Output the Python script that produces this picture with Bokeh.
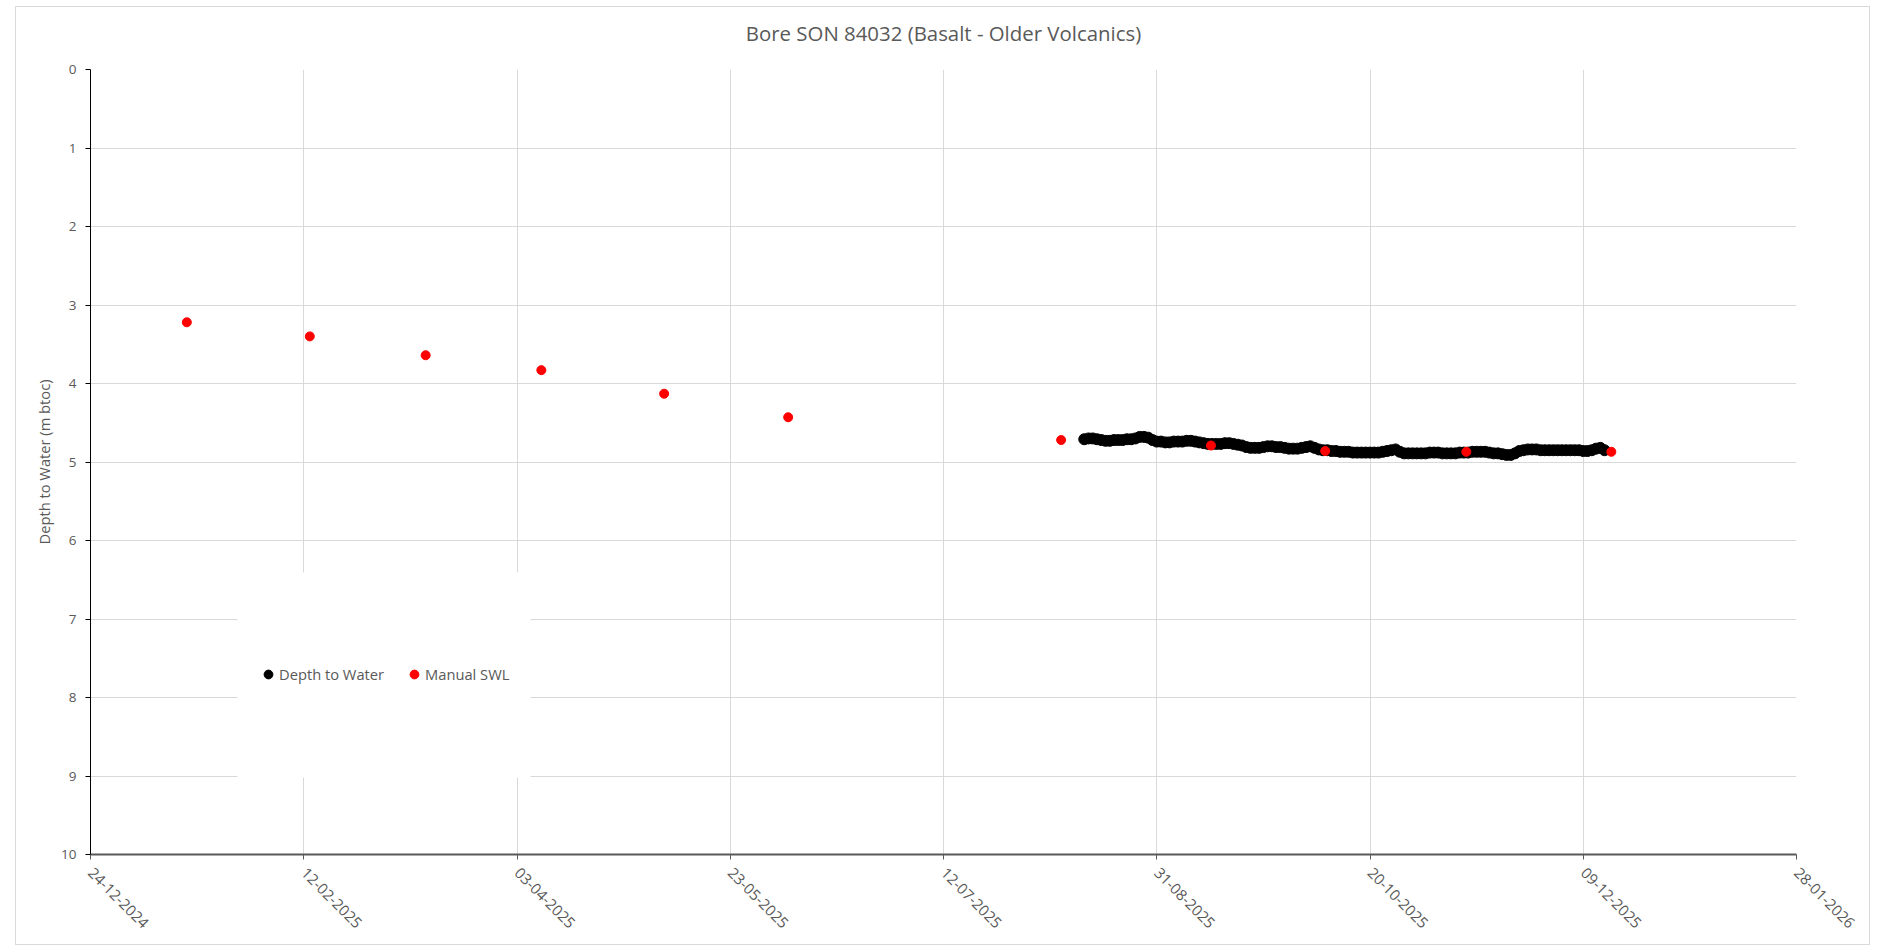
import math
import pandas as pd
from bokeh.plotting import figure
from bokeh.models import (Range1d, FixedTicker, DatetimeTickFormatter, BoxAnnotation,
                          LinearAxis)
from bokeh.embed import file_html
from bokeh.resources import INLINE

TITLE = "Bore SON 84032 (Basalt - Older Volcanics)"
Y_LABEL = "Depth to Water (m btoc)"
SERIES_LOGGER = "Depth to Water"
SERIES_MANUAL = "Manual SWL"

x_tick_dates = ["2024-12-24", "2025-02-12", "2025-04-03", "2025-05-23", "2025-07-12",
                "2025-08-31", "2025-10-20", "2025-12-09", "2026-01-28"]
y_ticks = [0, 1, 2, 3, 4, 5, 6, 7, 8, 9, 10]

# Daily logger readings, starting 2025-08-14
logger_start = "2025-08-14"
logger_depth = [
    4.71, 4.70, 4.70, 4.71, 4.72, 4.73, 4.73, 4.72, 4.72, 4.72,
    4.71, 4.71, 4.70, 4.68, 4.68, 4.69, 4.72, 4.74, 4.74, 4.75,
    4.75, 4.74, 4.74, 4.74, 4.73, 4.73, 4.74, 4.75, 4.76, 4.77,
    4.77, 4.77, 4.77, 4.76, 4.76, 4.77, 4.78, 4.79, 4.81, 4.82,
    4.82, 4.82, 4.81, 4.80, 4.80, 4.81, 4.81, 4.82, 4.83, 4.83,
    4.83, 4.82, 4.81, 4.80, 4.82, 4.84, 4.85, 4.85, 4.86, 4.86,
    4.87, 4.87, 4.87, 4.88, 4.88, 4.88, 4.88, 4.88, 4.88, 4.88,
    4.87, 4.86, 4.85, 4.84, 4.87, 4.89, 4.89, 4.89, 4.89, 4.89,
    4.89, 4.88, 4.88, 4.88, 4.89, 4.89, 4.89, 4.89, 4.88, 4.88,
    4.88, 4.87, 4.87, 4.87, 4.87, 4.88, 4.89, 4.89, 4.90, 4.91,
    4.91, 4.89, 4.86, 4.85, 4.84, 4.84, 4.84, 4.85, 4.85, 4.85,
    4.85, 4.85, 4.85, 4.85, 4.85, 4.85, 4.85, 4.86, 4.86, 4.85,
    4.83, 4.82, 4.85,
]

manual_dates = ["2025-01-15 14:00", "2025-02-13 10:00", "2025-03-12 14:00",
                "2025-04-08 17:00", "2025-05-07 12:00", "2025-06-05 14:00",
                "2025-08-08 14:00", "2025-09-12 17:00", "2025-10-09 12:00",
                "2025-11-11 14:00", "2025-12-15 14:00"]
manual_depth = [3.22, 3.40, 3.64, 3.83, 4.13, 4.43, 4.72, 4.79, 4.86, 4.87, 4.87]

TEXT = "#595959"
GRID = "#d9d9d9"
FONT = "Open Sans"

logger_x = pd.date_range(logger_start, periods=len(logger_depth), freq="D")
manual_x = pd.to_datetime(manual_dates)
tick_ts = pd.to_datetime(x_tick_dates)
tick_ms = [t.value / 1e6 for t in tick_ts]

p = figure(width=1855, height=939, x_axis_type="datetime",
           x_range=Range1d(tick_ts[0].to_pydatetime(), tick_ts[-1].to_pydatetime()),
           y_range=Range1d(10, 0),
           output_backend="svg", toolbar_location=None,
           min_border_left=74, min_border_right=75, min_border_top=62, min_border_bottom=92)

p.margin = (6, 0, 0, 15)
p.styles = {"border": "1px solid #d9d9d9"}
p.background_fill_color = "white"
p.border_fill_color = "white"
p.outline_line_color = None

xt = FixedTicker(ticks=tick_ms)
fmt = "%d-%m-%Y"
xaxis = p.below[0]
xaxis.ticker = xt
xaxis.formatter = DatetimeTickFormatter(
    microseconds=fmt, milliseconds=fmt, seconds=fmt, minsec=fmt, minutes=fmt,
    hourmin=fmt, hours=fmt, days=fmt, months=fmt, years=fmt)
xaxis.major_label_orientation = -math.pi / 4
xaxis.axis_line_color = TEXT
xaxis.axis_line_width = 2
xaxis.major_tick_line_color = TEXT
xaxis.major_tick_in = 0
xaxis.major_tick_out = 5
xaxis.minor_tick_line_color = None
xaxis.major_label_standoff = 11
xaxis.major_label_text_font_size = "15px"
xaxis.major_label_text_font = FONT
xaxis.major_label_text_color = TEXT

yaxis = p.left[0]
yaxis.ticker = FixedTicker(ticks=y_ticks)
yaxis.axis_line_color = "black"
yaxis.major_tick_line_color = "black"
yaxis.major_tick_in = 0
yaxis.major_tick_out = 5
yaxis.minor_tick_line_color = None
yaxis.major_label_standoff = 9
yaxis.major_label_text_font_size = "13.5px"
yaxis.major_label_text_font = FONT
yaxis.major_label_text_color = TEXT
yaxis.axis_label = Y_LABEL
yaxis.axis_label_standoff = 4
yaxis.axis_label_text_font = FONT
yaxis.axis_label_text_font_size = "14.7px"
yaxis.axis_label_text_font_style = "normal"
yaxis.axis_label_text_color = TEXT

# chart title: label of a bare axis above the frame (centred over the plot area)
title_axis = LinearAxis(ticker=FixedTicker(ticks=[]), axis_label=TITLE,
                        axis_line_color=None, major_tick_line_color=None,
                        minor_tick_line_color=None, major_label_text_font_size="0px",
                        axis_label_standoff=23, axis_label_text_font=FONT,
                        axis_label_text_font_size="20.4px",
                        axis_label_text_font_style="normal",
                        axis_label_text_color=TEXT)
p.add_layout(title_axis, "above")

p.xgrid.ticker = xt
p.xgrid.grid_line_color = GRID
p.ygrid.grid_line_color = GRID

# white panel behind the legend (frame-relative screen units)
legend_panel = BoxAnnotation(left=147, right=440, bottom=77, top=282,
                             left_units="screen", right_units="screen",
                             bottom_units="screen", top_units="screen",
                             fill_color="white", fill_alpha=1.0, line_color=None,
                             level="underlay")
p.add_layout(legend_panel)

p.scatter(logger_x, logger_depth, size=11, color="black", legend_label=SERIES_LOGGER)
p.scatter(manual_x, manual_depth, size=9, color="#ff0000", legend_label=SERIES_MANUAL)

lg = p.legend[0]
lg.orientation = "horizontal"
lg.location = (167, 169)
lg.padding = 0
lg.margin = 0
lg.spacing = 19
lg.glyph_width = 22
lg.glyph_height = 22
lg.label_standoff = 0
lg.label_text_font = FONT
lg.label_text_font_size = "14.7px"
lg.label_text_color = TEXT
lg.border_line_color = None
lg.background_fill_alpha = 0.0

open("out.html", "w").write(file_html(p, INLINE))
